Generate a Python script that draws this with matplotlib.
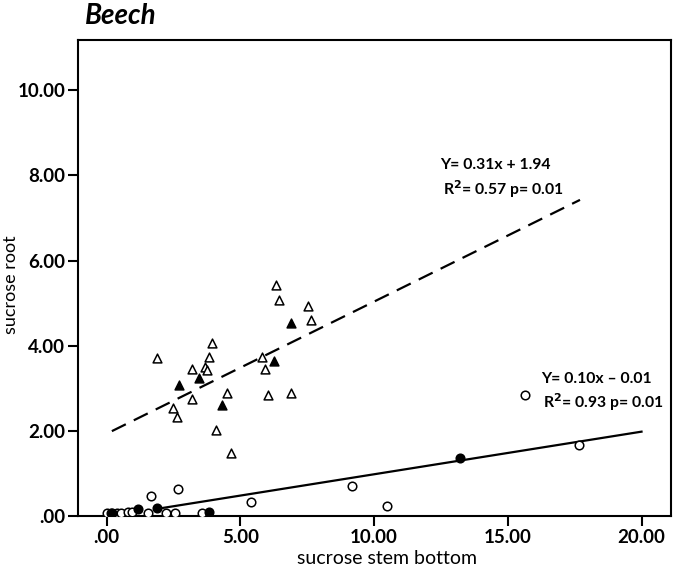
import numpy as np
import matplotlib
matplotlib.use("Agg")
import matplotlib.pyplot as plt

plt.rcParams['font.family'] = ['Lato', 'DejaVu Sans']

# triangles (upper group)
tri_open_x = [6.32, 6.43, 7.53, 7.64, 3.95, 1.87, 3.82, 3.19, 3.67, 3.74, 5.82,
              5.92, 4.52, 6.04, 6.88, 3.20, 2.49, 2.65, 4.09, 4.67]
tri_open_y = [5.43, 5.08, 4.94, 4.62, 4.08, 3.72, 3.75, 3.45, 3.51, 3.43, 3.75,
              3.45, 2.89, 2.85, 2.89, 2.76, 2.54, 2.34, 2.03, 1.50]
tri_fill_x = [6.88, 3.44, 2.70, 6.27, 4.30]
tri_fill_y = [4.54, 3.25, 3.09, 3.65, 2.61]

# circles (lower group)
circ_open_x = [0.0, 0.15, 0.40, 0.55, 0.80, 0.95, 1.56, 2.24, 2.55, 3.57,
               1.67, 2.68, 5.39, 9.17, 10.49, 15.64, 17.67]
circ_open_y = [0.07, 0.07, 0.07, 0.07, 0.10, 0.11, 0.09, 0.07, 0.07, 0.07,
               0.48, 0.64, 0.35, 0.72, 0.25, 2.86, 1.68]
circ_fill_x = [0.2, 1.17, 1.87, 3.84, 13.23]
circ_fill_y = [0.08, 0.17, 0.21, 0.11, 1.38]

# fitted lines
fit1_x = [0.2, 17.7]
fit1_a, fit1_b = 0.31, 1.94
fit2_x = [1.9, 20.0]
fit2_a, fit2_b = 0.10, -0.01

fig = plt.figure(figsize=(6.75, 5.68), dpi=100)
ax = fig.add_axes([0.115, 0.0907, 0.879, 0.8383])

x1 = np.array(fit1_x)
ax.plot(x1, fit1_a * x1 + fit1_b, color='black', lw=1.6, dashes=(7, 4))
x2 = np.array(fit2_x)
ax.plot(x2, fit2_a * x2 + fit2_b, color='black', lw=1.6)

ax.scatter(tri_open_x, tri_open_y, marker='^', s=40, facecolors='white',
           edgecolors='black', linewidths=1.1, zorder=3)
ax.scatter(tri_fill_x, tri_fill_y, marker='^', s=40, facecolors='black',
           edgecolors='black', linewidths=1.1, zorder=3)
ax.scatter(circ_open_x, circ_open_y, marker='o', s=38, facecolors='white',
           edgecolors='black', linewidths=1.1, zorder=3)
ax.scatter(circ_fill_x, circ_fill_y, marker='o', s=38, facecolors='black',
           edgecolors='black', linewidths=1.1, zorder=3)

ax.set_xlim(-1.08, 21.1)
ax.set_ylim(0, 11.17)
ax.set_xticks([0, 5, 10, 15, 20])
ax.set_xticklabels(['.00', '5.00', '10.00', '15.00', '20.00'])
ax.set_yticks([0, 2, 4, 6, 8, 10])
ax.set_yticklabels(['.00', '2.00', '4.00', '6.00', '8.00', '10.00'])
ax.tick_params(direction='out', length=7, width=1.5, labelsize=13.5, pad=2)
for lab in ax.get_xticklabels() + ax.get_yticklabels():
    lab.set_fontweight('bold')
for sp in ax.spines.values():
    sp.set_linewidth(1.5)

# axis titles placed in figure coords
fig.text(387 / 675, 1 - 558 / 568, 'sucrose stem bottom', fontsize=14,
         ha='center', va='center')
fig.text(11 / 675, 1 - 285 / 568, 'sucrose root', fontsize=13,
         rotation=90, ha='center', va='center')

ax.text(12.48, 8.24, 'Y= 0.31x + 1.94', fontsize=11.3, fontweight='bold',
        va='center')
ax.text(12.59, 7.68, 'R$^\\mathbf{2}$= 0.57 p= 0.01', fontsize=11.3,
        fontweight='bold', va='center')
ax.text(16.26, 3.22, 'Y= 0.10x \u2013 0.01', fontsize=11.3, fontweight='bold',
        va='center')
ax.text(16.30, 2.69, 'R$^\\mathbf{2}$= 0.93 p= 0.01', fontsize=11.3,
        fontweight='bold', va='center')

fig.text(0.126, 0.972, 'Beech', fontsize=20, fontweight='bold',
         fontstyle='italic', va='center')

fig.savefig('out.png', dpi=100)
